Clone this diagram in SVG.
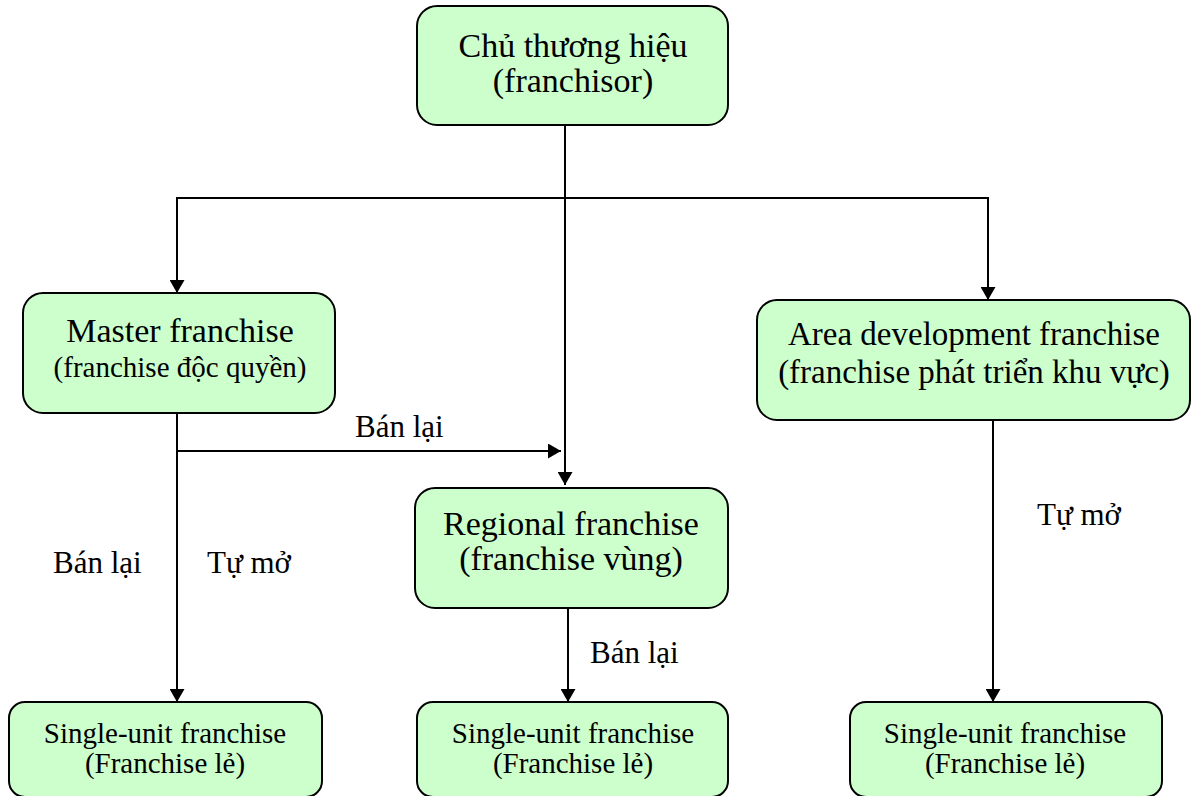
<svg xmlns="http://www.w3.org/2000/svg" width="1199" height="796" viewBox="0 0 1199 796">
  <style>
    .box { fill: #CCFFCC; stroke: #000; stroke-width: 2; }
    .t { font-family: "Liberation Serif", "Times New Roman", serif; fill: #000; text-anchor: middle; }
    .big { font-size: 34px; }
    .area { font-size: 33px; }
    .sm { font-size: 29px; }
    .lbl { font-family: "Liberation Serif", "Times New Roman", serif; font-size: 31px; fill: #000; }
    .ln { fill: none; stroke: #000; stroke-width: 2; }
  </style>
  <defs>
    <marker id="arr" viewBox="0 0 13 15" refX="13" refY="7.5" markerWidth="13" markerHeight="15" markerUnits="userSpaceOnUse" orient="auto">
      <path d="M0,0 L13,7.5 L0,15 Z" fill="#000"/>
    </marker>
  </defs>
  <rect width="1199" height="796" fill="#fff"/>

  <g id="connectors">
    <line class="ln" x1="565" y1="125" x2="565" y2="485" marker-end="url(#arr)"/>
    <line class="ln" x1="176" y1="198" x2="989" y2="198"/>
    <line class="ln" x1="177" y1="198" x2="177" y2="293" marker-end="url(#arr)"/>
    <line class="ln" x1="988" y1="198" x2="988" y2="300" marker-end="url(#arr)"/>
    <line class="ln" x1="177" y1="413" x2="177" y2="702" marker-end="url(#arr)"/>
    <line class="ln" x1="177" y1="451" x2="561" y2="451" marker-end="url(#arr)"/>
    <line class="ln" x1="568" y1="608" x2="568" y2="702" marker-end="url(#arr)"/>
    <line class="ln" x1="993" y1="420" x2="993" y2="702" marker-end="url(#arr)"/>
    <text class="lbl" x="355" y="437">Bán lại</text>
    <text class="lbl" x="53" y="573">Bán lại</text>
    <text class="lbl" x="207" y="573">Tự mở</text>
    <text class="lbl" x="590" y="663">Bán lại</text>
    <text class="lbl" x="1037" y="525">Tự mở</text>
  </g>

  <g id="franchisor">
    <rect class="box" x="417" y="6" width="311" height="119" rx="20"/>
    <text class="t big" x="573" y="57">Chủ thương hiệu</text>
    <text class="t big" x="573" y="92">(franchisor)</text>
  </g>

  <g id="master">
    <rect class="box" x="23" y="293" width="312" height="120" rx="20"/>
    <text class="t big" x="180" y="342">Master franchise</text>
    <text class="t sm" x="180" y="377">(franchise độc quyền)</text>
  </g>

  <g id="area">
    <rect class="box" x="757" y="300" width="433" height="120" rx="20"/>
    <text class="t area" x="974" y="345">Area development franchise</text>
    <text class="t area" x="974" y="383">(franchise phát triển khu vực)</text>
  </g>

  <g id="regional">
    <rect class="box" x="415" y="488" width="313" height="120" rx="20"/>
    <text class="t big" x="571" y="535">Regional franchise</text>
    <text class="t big" x="571" y="570">(franchise vùng)</text>
  </g>

  <g id="single1">
    <rect class="box" x="9" y="702" width="313" height="95" rx="16"/>
    <text class="t sm" x="165" y="743">Single-unit franchise</text>
    <text class="t sm" x="165" y="773">(Franchise lẻ)</text>
  </g>

  <g id="single2">
    <rect class="box" x="417" y="702" width="311" height="95" rx="16"/>
    <text class="t sm" x="573" y="743">Single-unit franchise</text>
    <text class="t sm" x="573" y="773">(Franchise lẻ)</text>
  </g>

  <g id="single3">
    <rect class="box" x="850" y="702" width="312" height="95" rx="16"/>
    <text class="t sm" x="1005" y="743">Single-unit franchise</text>
    <text class="t sm" x="1005" y="773">(Franchise lẻ)</text>
  </g>
</svg>
